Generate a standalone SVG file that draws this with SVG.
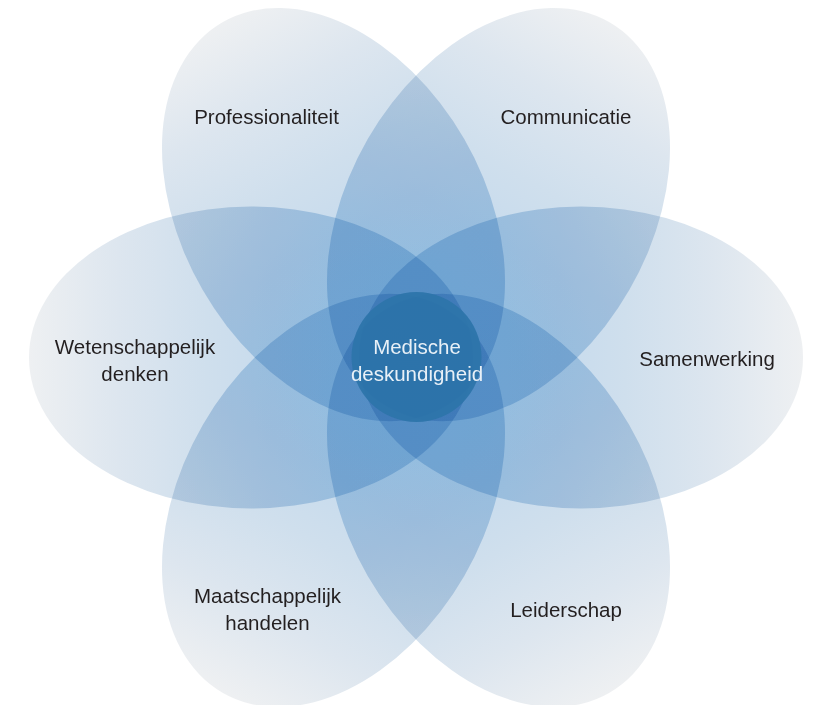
<svg xmlns="http://www.w3.org/2000/svg" width="815" height="705" viewBox="0 0 815 705">
  <style>
    .petal { fill: url(#petalGrad); mix-blend-mode: multiply; }
    .label { font-family: "Liberation Sans", Arial, sans-serif; font-size: 20.5px; fill: #231f20; text-anchor: middle; }
    .center-label { font-family: "Liberation Sans", Arial, sans-serif; font-size: 20.5px; fill: #e8f0f7; text-anchor: middle; }
  </style>
  <defs>
    <linearGradient id="petalGrad" x1="0" y1="0" x2="1" y2="0">
      <stop offset="0" stop-color="#c0ddf0"/>
      <stop offset="0.3" stop-color="#c2dcef"/>
      <stop offset="0.45" stop-color="#c7dbed"/>
      <stop offset="0.6" stop-color="#cfdfed"/>
      <stop offset="0.8" stop-color="#dde6ef"/>
      <stop offset="1" stop-color="#eef0f2"/>
    </linearGradient>
  </defs>
  <rect x="0" y="0" width="815" height="705" fill="#ffffff"/>
  <g id="connectors"/>
  <g id="node-professionaliteit">
    <ellipse class="petal" transform="translate(416 357.5) rotate(-120)" cx="165" cy="0" rx="222" ry="151"/>
    <text class="label" x="266.5" y="124">Professionaliteit</text>
  </g>
  <g id="node-communicatie">
    <ellipse class="petal" transform="translate(416 357.5) rotate(-60)" cx="165" cy="0" rx="222" ry="151"/>
    <text class="label" x="566" y="124">Communicatie</text>
  </g>
  <g id="node-samenwerking">
    <ellipse class="petal" transform="translate(416 357.5) rotate(0)" cx="165" cy="0" rx="222" ry="151"/>
    <text class="label" x="707" y="366">Samenwerking</text>
  </g>
  <g id="node-leiderschap">
    <ellipse class="petal" transform="translate(416 357.5) rotate(60)" cx="165" cy="0" rx="222" ry="151"/>
    <text class="label" x="566" y="617">Leiderschap</text>
  </g>
  <g id="node-maatschappelijk-handelen">
    <ellipse class="petal" transform="translate(416 357.5) rotate(120)" cx="165" cy="0" rx="222" ry="151"/>
    <text class="label" x="267.5" y="603">Maatschappelijk</text>
    <text class="label" x="267.5" y="630">handelen</text>
  </g>
  <g id="node-wetenschappelijk-denken">
    <ellipse class="petal" transform="translate(416 357.5) rotate(180)" cx="165" cy="0" rx="222" ry="151"/>
    <text class="label" x="135" y="354">Wetenschappelijk</text>
    <text class="label" x="135" y="381">denken</text>
  </g>
  <g id="node-medische-deskundigheid">
    <circle cx="416.5" cy="357" r="65" fill="#2c74a9" fill-opacity="0.92"/>
    <text class="center-label" x="417" y="354">Medische</text>
    <text class="center-label" x="417" y="381">deskundigheid</text>
  </g>
</svg>
